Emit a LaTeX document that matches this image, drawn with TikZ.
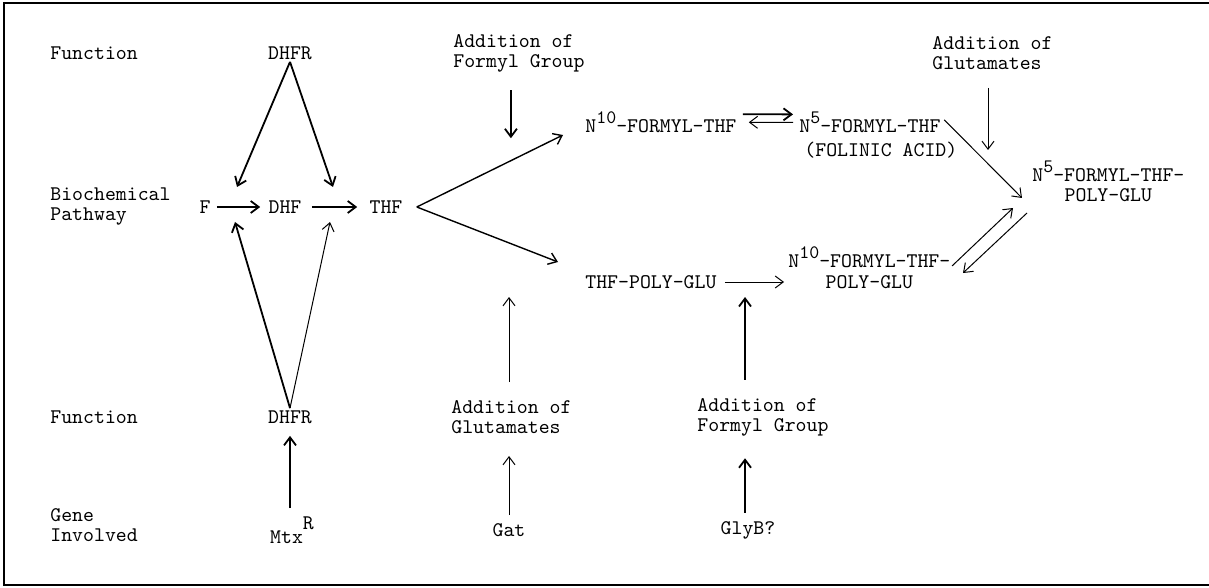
\documentclass[tikz,border=0pt]{standalone}
\usetikzlibrary{arrows.meta,calc,positioning}
\newcommand\supnum[1]{\raisebox{1.1ex}{\fontsize{9.5}{9.5}\selectfont #1}}

\begin{document}
\begin{tikzpicture}[x=0.5pt,y=-0.5pt,
    every node/.style={font=\ttfamily\fontsize{10.4}{10}\selectfont,inner sep=1pt},
    lbl/.style={anchor=west,align=left},
    chem/.style={anchor=base west,align=center},
    arr/.style={-{Straight Barb[length=4pt,width=6pt]},line width=0.9pt},
    thinarr/.style={-{Straight Barb[length=4pt,width=6pt]},line width=0.5pt}]
    \useasboundingbox (0,0) rectangle (1209,588);
    % Frame.
    \draw[line width=1.2pt] (1209,3) -- (4,3) -- (4,585) -- (1209,585);

    % Row headings.
    \node[lbl] (fnTop)   at (48,53)  {Function};
    \node[lbl] (bioPath) at (48,207) {Biochemical\\Pathway};
    \node[lbl] (fnBot)   at (48,417) {Function};
    \node[lbl] (geneInv) at (48,525) {Gene\\Involved};

    % Functions and genes.
    \node (dhfrTop) at (290,53)  {DHFR};
    \node (dhfrBot) at (290,417) {DHFR};
    \node (mtx)     at (292,530) {Mtx\raisebox{7pt}{R}};
    \node (gat)     at (509,530) {Gat};
    \node (glyB)    at (748,530) {GlyB?};
    \node[lbl] (addFormylTop) at (451,53)  {Addition of\\Formyl Group};
    \node[lbl] (addGluTop)    at (930,53)  {Addition of\\Glutamates};
    \node[lbl] (addGluBot)    at (449,417) {Addition of\\Glutamates};
    \node[lbl] (addFormylBot) at (695,417) {Addition of\\Formyl Group};

    % Pathway.
    \node (fol) at (205,207) {F};
    \node (dhf) at (285,207) {DHF};
    \node (thf) at (386,207) {THF};
    \node[chem] (nTenF)   at (583,133) {N\supnum{10}-FORMYL-THF};
    \node[chem] (nFiveF)  at (797,133) {N\supnum{5}-FORMYL-THF};
    \node[chem] (folinic) at (802,157) {(FOLINIC ACID)};
    \node[chem] (nFivePoly) at (1030,202) {N\supnum{5}-FORMYL-THF-\\POLY-GLU};
    \node[chem] (thfPoly)   at (583,288) {THF-POLY-GLU};
    \node[chem] (nTenPoly)  at (786,288) {N\supnum{10}-FORMYL-THF-\\POLY-GLU};

    % Free ends of the connectors.
    \coordinate (hdA)  at (237,187);
    \coordinate (hdB)  at (333,187);
    \coordinate (tlA)  at (235,222);
    \coordinate (tlB)  at (330,222);
    \coordinate (upEnd) at (563,135);
    \coordinate (loEnd) at (558,262);
    \coordinate (eqA) at (952,266);
    \coordinate (eqB) at (1013,208);
    \coordinate (eqC) at (1027,213);
    \coordinate (eqD) at (963,273);
    \coordinate (gluTip) at (988,150);

    % DHFR steps.
    \draw[arr] (dhfrTop.south) -- (hdA);
    \draw[arr] (dhfrTop.south) -- (hdB);
    \draw[arr] (dhfrBot.north) -- (tlA);
    \draw[thinarr] (dhfrBot.north) -- (tlB);
    \draw[arr,shorten <=2pt,shorten >=3pt] (fol) -- (dhf);
    \draw[arr,shorten <=4pt,shorten >=5pt] (dhf) -- (thf);

    % Branches from THF.
    \coordinate (thfTip) at ([xshift=6pt]thf.east);
    \draw[arr,line width=0.7pt] (thfTip) -- (upEnd);
    \draw[arr,line width=0.7pt] (thfTip) -- (loEnd);
    \draw[arr,shorten <=2pt,shorten >=2pt] ([yshift=4pt]nTenF.east) -- ([yshift=4pt]nFiveF.west);
    \draw[thinarr,shorten <=2pt,shorten >=5pt] (nFiveF.west) -- (nTenF.east);
    \draw[thinarr,shorten <=1pt] ([yshift=2pt]nFiveF.east) -- ([xshift=-4pt,yshift=2pt]nFivePoly.base west);
    \draw[thinarr] (eqA) -- (eqB);
    \draw[thinarr] (eqC) -- (eqD);
    \draw[thinarr,shorten <=3pt,shorten >=1pt] ([yshift=3pt]thfPoly.base east) -- ([yshift=3pt]nTenPoly.base west);

    % Functions acting on the pathway.
    \draw[arr] ([xshift=-4pt,yshift=-8pt]addFormylTop.south) -- ++(0,48);
    \draw[thinarr] ([yshift=-8pt]addGluTop.south -| gluTip) -- (gluTip);
    \draw[thinarr] ([yshift=8pt]addGluBot.north -| gat) -- (509,297);
    \draw[arr] ([yshift=8pt]addFormylBot.north -| 745,0) -- (745,297);

    % Genes.
    \draw[arr] ([yshift=3pt]mtx.north -| dhfrBot) -- ([yshift=-5pt]dhfrBot.south);
    \draw[thinarr] ([yshift=3pt]gat.north) -- ([yshift=-10pt]addGluBot.south -| gat);
    \draw[arr] ([yshift=3pt]glyB.north -| 745,0) -- ([yshift=-10pt]addFormylBot.south -| 745,0);
\end{tikzpicture}
\end{document}
